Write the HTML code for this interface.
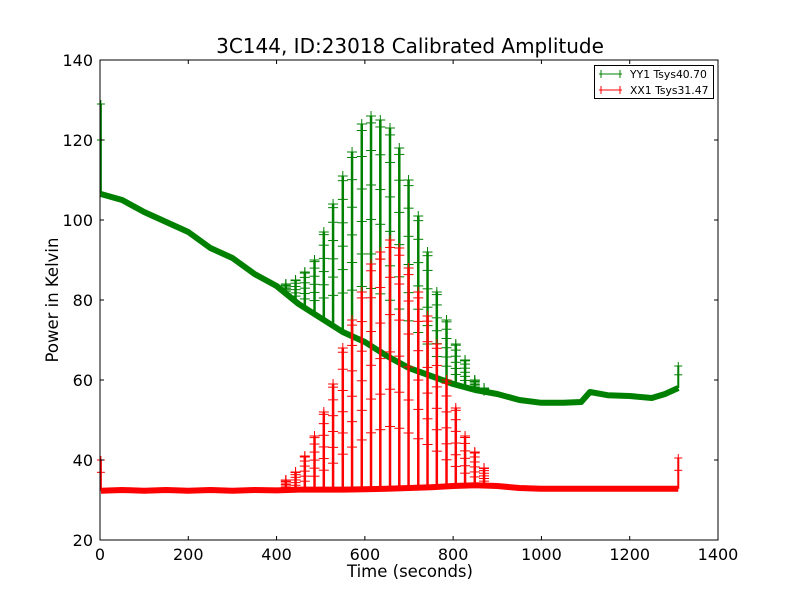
<!DOCTYPE html>
<html><head><meta charset="utf-8"><style>
body{margin:0;background:#fff;}
svg{display:block;font-family:"DejaVu Sans","Liberation Sans",sans-serif;}
</style></head><body>
<svg id="chart" width="800" height="600" viewBox="0 0 800 600">
<rect x="0" y="0" width="800" height="600" fill="#fff"/>
<text x="410" y="53" font-size="20" text-anchor="middle">3C144, ID:23018 Calibrated Amplitude</text>
<g id="plot"></g>
<g id="axes"></g>
<text x="410" y="577" font-size="16.5" text-anchor="middle">Time (seconds)</text>
<text x="58" y="300" font-size="16.5" text-anchor="middle" transform="rotate(-90 58 300)">Power in Kelvin</text>
<g>
<rect x="594.5" y="65.5" width="119" height="33" fill="#fff" stroke="#000"/>
<g>
<line x1="599" y1="74" x2="622" y2="74" stroke="green"/><line x1="601" y1="70" x2="601" y2="78" stroke="green"/><line x1="620" y1="70" x2="620" y2="78" stroke="green"/>
<text x="630" y="78" font-size="10.8">YY1 Tsys40.70</text></g>
<g>
<line x1="599" y1="90" x2="622" y2="90" stroke="red"/><line x1="601" y1="86" x2="601" y2="94" stroke="red"/><line x1="620" y1="86" x2="620" y2="94" stroke="red"/>
<text x="630" y="94" font-size="10.8">XX1 Tsys31.47</text></g>
</g>
</svg>
<script>
const xTicks=[0,200,400,600,800,1000,1200,1400];
const yTicks=[20,40,60,80,100,120,140];
const greenBaseT=[2,50,100,150,200,250,300,350,400,450,500,550,600,650,700,750,800,850,900,950,1000,1050,1090,1110,1150,1200,1250,1280,1310];
const greenBaseV=[106.5,105,102,99.5,97,93,90.5,86.5,83.5,79,75.5,72,69.5,66,63,61,59,57.5,56.5,55,54.3,54.3,54.5,57,56.2,56,55.5,56.5,58];
const redBaseT=[2,50,100,150,200,250,300,350,400,450,500,550,600,650,700,750,800,850,900,950,1000,1050,1100,1150,1200,1250,1310];
const redBaseV=[32.3,32.5,32.3,32.5,32.3,32.5,32.3,32.5,32.4,32.6,32.6,32.6,32.7,32.8,33,33.2,33.5,33.7,33.5,33,32.8,32.8,32.8,32.8,32.8,32.8,32.8];
const spikeT=[421,443,464,486,507,528,550,571,593,614,635,657,678,699,721,742,763,785,806,827,849,870];
const greenPeak=[84,85,87,90,97,104,111,117,124,126,125,123,118,110,101,92,82,75,69,65,60,58];
const redPeak=[35,37,41,46,52,59,68,75,82,89,92,95,93,88,82,76,69,60,53,46,42,38];
const edgeT=[2,1310];
const greenEdge=[129,63.5];
const redEdge=[40,40.5];
const X0=100,X1=718,Y0=540,Y1=60;
const xs=t=>X0+(t-0)/(1400-0)*(X1-X0);
const ys=v=>Y0-(v-20)/(140-20)*(Y0-Y1);
const NS="http://www.w3.org/2000/svg";
const plot=document.getElementById('plot'),axes=document.getElementById('axes');
function mk(tag,attrs,parent){const e=document.createElementNS(NS,tag);for(const k in attrs)e.setAttribute(k,attrs[k]);parent.appendChild(e);return e;}
function interp(T,V,t){for(let i=0;i<T.length-1;i++){if(t<=T[i+1])return V[i]+(V[i+1]-V[i])*(t-T[i])/(T[i+1]-T[i]);}return V[V.length-1];}
function plus(x,y,c,g,w){mk('line',{x1:x-w,y1:y,x2:x+w,y2:y,stroke:c,'stroke-width':1},g);mk('line',{x1:x,y1:y-w,x2:x,y2:y+w,stroke:c,'stroke-width':1},g);}
function series(name,color,T,V,peaks,eT,eV){
 const g=mk('g',{},plot);
 
 
 const pts=T.map((t,i)=>xs(t)+','+ys(V[i])).join(' ');
 mk('polyline',{points:pts,fill:'none',stroke:color,'stroke-width':6,'stroke-linejoin':'round'},g);
 spikeT.forEach((t,i)=>{
  const b=interp(T,V,t),p=peaks[i],x=xs(t);
  const s=mk('g',{},g);
  
  
  mk('line',{x1:x,y1:ys(b),x2:x,y2:ys(p),stroke:color,'stroke-width':2.5},s);
  [1,0.97,0.85,0.7,0.55,0.4,0.25].forEach(f=>plus(x,ys(b+(p-b)*f),color,s,5));
 });
 eT.forEach((t,i)=>{
  const b=interp(T,V,t),x=xs(t);
  const s=mk('g',{},g);
  
  
  mk('line',{x1:x,y1:ys(b),x2:x,y2:ys(eV[i]),stroke:color,'stroke-width':2},s);
  plus(x,ys(eV[i]),color,s,4);plus(x,ys(b+(eV[i]-b)*0.6),color,s,4);
 });
}
series('series-yy1','green',greenBaseT,greenBaseV,greenPeak,edgeT,greenEdge);
series('series-xx1','red',redBaseT,redBaseV,redPeak,edgeT,redEdge);
const frame=mk('rect',{x:X0,y:Y1,width:X1-X0,height:Y0-Y1,fill:'none',stroke:'#000','stroke-width':1},axes);


xTicks.forEach(t=>{const x=xs(t);
 mk('line',{x1:x,y1:Y0,x2:x,y2:Y0-4,stroke:'#000'},axes);mk('line',{x1:x,y1:Y1,x2:x,y2:Y1+4,stroke:'#000'},axes);
 const tx=mk('text',{x:x,y:Y0+20,'font-size':16,'text-anchor':'middle'},axes);tx.textContent=t;
 
 });
yTicks.forEach(v=>{const y=ys(v);
 mk('line',{x1:X0,y1:y,x2:X0+4,y2:y,stroke:'#000'},axes);mk('line',{x1:X1,y1:y,x2:X1-4,y2:y,stroke:'#000'},axes);
 const tx=mk('text',{x:X0-7,y:y+6,'font-size':16,'text-anchor':'end'},axes);tx.textContent=v;
 
 });
</script>
</body></html>
